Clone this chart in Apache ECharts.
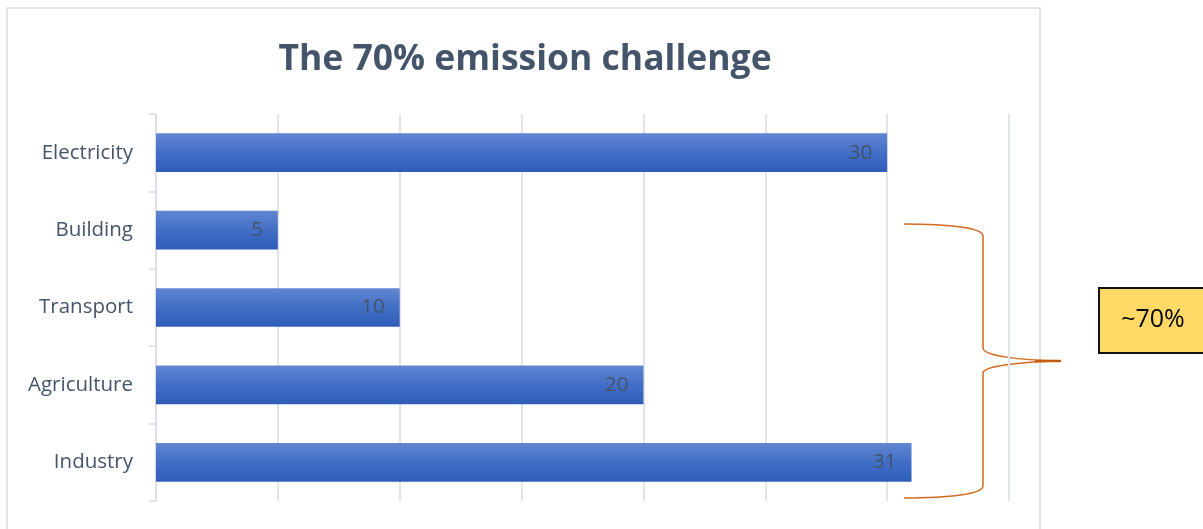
<!DOCTYPE html>
<html>
<head>
<meta charset="utf-8">
<script src="https://cdn.jsdelivr.net/npm/echarts@6/dist/echarts.min.js"></script>
<style>
html,body{margin:0;padding:0;background:#fff;}
#chart{width:1203px;height:529px;}
</style>
</head>
<body>
<div id="chart"></div>
<script>
const titleText = 'The 70% emission challenge';
const categories = ['Electricity', 'Building', 'Transport', 'Agriculture', 'Industry'];
const values = [30, 5, 10, 20, 31];
const calloutText = '~70%';

const chart = echarts.init(document.getElementById('chart'));
const font = '"Open Sans", "Noto Sans", sans-serif';
const braceStyle = { fill: 'none', stroke: '#D2691E', lineWidth: 1.5 };
function bez(x1, y1, cpx1, cpy1, cpx2, cpy2, x2, y2) {
  return { type: 'bezierCurve', shape: { x1, y1, cpx1, cpy1, cpx2, cpy2, x2, y2 }, style: braceStyle };
}
function seg(x1, y1, x2, y2) {
  return { type: 'line', shape: { x1, y1, x2, y2 }, style: braceStyle };
}
const option = {
  backgroundColor: '#ffffff',
  animation: false,
  title: {
    text: titleText,
    left: 520,
    top: 37,
    textAlign: 'center',
    textStyle: { fontFamily: font, fontSize: 35.5, fontWeight: 'bold', color: '#44546A' }
  },
  grid: { left: 156, right: 194, top: 114, bottom: 28, containLabel: false },
  xAxis: {
    type: 'value', min: 0, max: 35, interval: 5,
    axisLine: { show: false }, axisTick: { show: false }, axisLabel: { show: false },
    splitLine: { show: true, lineStyle: { color: '#E1E4E8', width: 2 } }
  },
  yAxis: {
    type: 'category', data: categories, inverse: true,
    axisLine: { show: true, lineStyle: { color: '#D9DCE1', width: 1.5 } },
    axisTick: { show: true, length: 7, lineStyle: { color: '#D9DCE1', width: 1.5 } },
    axisLabel: { margin: 23, fontFamily: font, fontSize: 20.5, color: '#44546A' }
  },
  series: [{
    type: 'bar', data: values, barWidth: '50%',
    itemStyle: {
      color: new echarts.graphic.LinearGradient(0, 0, 0, 1, [
        { offset: 0, color: '#6186D1' },
        { offset: 0.5, color: '#426FC6' },
        { offset: 1, color: '#2E5DB8' }
      ])
    },
    label: {
      show: true, position: 'insideRight', distance: 15,
      fontFamily: font, fontSize: 20.5, color: '#44546A'
    }
  }],
  graphic: [
    { type: 'rect', shape: { x: 7, y: 8, width: 1033, height: 540 }, style: { fill: 'none', stroke: '#D9DCE1', lineWidth: 1.5 }, z: -1 },
    bez(904, 224, 950, 224, 983, 228, 983, 236),
    seg(983, 236, 983, 348),
    bez(983, 348, 983, 356, 1020, 360, 1060, 361),
    bez(1060, 361, 1020, 362, 983, 366, 983, 373),
    seg(983, 373, 983, 486),
    bez(983, 486, 983, 494, 950, 498, 904, 498),
    { type: 'line', shape: { x1: 1035, y1: 361, x2: 1061, y2: 361 }, style: { stroke: '#C55A11', lineWidth: 2.5 } },
    { type: 'rect', shape: { x: 1099, y: 288, width: 106, height: 65 }, style: { fill: '#FFD966', stroke: '#111111', lineWidth: 2 } },
    { type: 'text', x: 1153, y: 320, style: { text: calloutText, fontFamily: font, fontSize: 25, fill: '#000000', align: 'center', verticalAlign: 'middle' } }
  ]
};
chart.setOption(option);
</script>
</body>
</html>
